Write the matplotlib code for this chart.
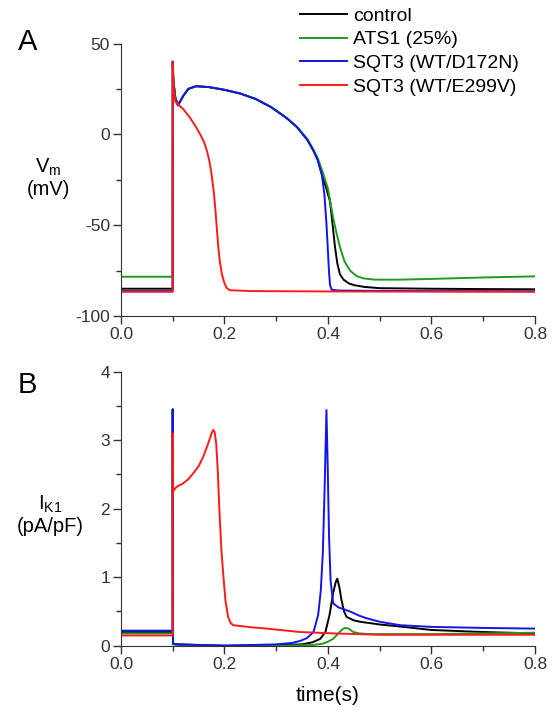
import matplotlib
matplotlib.use('Agg')
import matplotlib.pyplot as plt
from matplotlib.ticker import MultipleLocator

plt.rcParams['font.family'] = ['Liberation Sans', 'DejaVu Sans']
plt.rcParams['mathtext.fontset'] = 'custom'
plt.rcParams['mathtext.rm'] = 'Liberation Sans'
plt.rcParams['mathtext.it'] = 'Liberation Sans'
plt.rcParams['axes.unicode_minus'] = False

labels = ['control', 'ATS1 (25%)', 'SQT3 (WT/D172N)', 'SQT3 (WT/E299V)']
colors = ['black', '#1e9c1e', '#1414e6', '#ff1a1a']

# panel A: membrane potential (mV)
t_v_ctrl = [0, 0.0999, 0.1, 0.101, 0.105, 0.11, 0.12, 0.13, 0.145, 0.17, 0.2, 0.23, 0.26,
            0.29, 0.32, 0.34, 0.36, 0.372, 0.38, 0.388, 0.396, 0.404, 0.409, 0.4135, 0.418,
            0.423, 0.43, 0.44, 0.45, 0.47, 0.5, 0.6, 0.7, 0.8]
v_ctrl = [-85, -85, 40, 30, 20, 16, 21, 25, 26.5, 26, 24.5, 22.5, 19.5,
          15, 9, 4, -3, -9, -14, -22, -29, -37, -50, -62, -71,
          -77, -80, -82, -83, -84, -84.7, -85, -85.2, -85.3]

t_v_ats = [0, 0.0999, 0.1, 0.101, 0.105, 0.11, 0.12, 0.13, 0.145, 0.17, 0.2, 0.23, 0.26,
           0.29, 0.32, 0.34, 0.36, 0.372, 0.38, 0.39, 0.40, 0.41, 0.417, 0.423, 0.432,
           0.4425, 0.455, 0.468, 0.49, 0.54, 0.6, 0.7, 0.8]
v_ats = [-78.4, -78.4, 40, 30, 20, 16, 21, 25, 26.5, 26, 24.5, 22.5, 19.5,
         15, 9, 4, -2.5, -8.5, -13, -21, -30, -46, -55, -62, -70,
         -75, -78, -79.3, -80, -80, -79.6, -78.8, -78.2]

t_v_d172n = [0, 0.0999, 0.1, 0.101, 0.105, 0.11, 0.12, 0.13, 0.145, 0.17, 0.2, 0.23, 0.26,
             0.29, 0.32, 0.34, 0.36, 0.372, 0.38, 0.388, 0.393, 0.397, 0.400, 0.402, 0.404,
             0.407, 0.42, 0.5, 0.6, 0.8]
v_d172n = [-86.3, -86.3, 40, 30, 20, 16, 21, 25, 26.5, 26, 24.5, 22.5, 19.5,
           15, 9, 4, -3, -9, -14, -22, -33, -49, -65, -76, -83,
           -85.5, -86, -86.2, -86.3, -86.4]

t_v_e299v = [0, 0.0999, 0.1, 0.102, 0.105, 0.11, 0.114, 0.12, 0.133, 0.145, 0.153, 0.16,
             0.166, 0.171, 0.175, 0.179, 0.182, 0.185, 0.188, 0.191, 0.195, 0.2, 0.204,
             0.21, 0.25, 0.4, 0.6, 0.8]
v_e299v = [-86.7, -86.7, 40, 25, 18, 16.5, 15.5, 14, 9.3, 4, 0, -4,
           -9, -15, -22, -31, -40, -51, -62, -70, -77, -82, -84.5,
           -85.8, -86.3, -86.5, -86.6, -86.7]

# panel B: I_K1 (pA/pF)
t_i_ctrl = [0, 0.0999, 0.1, 0.1005, 0.11, 0.2, 0.3, 0.35, 0.37, 0.385, 0.395, 0.403, 0.41,
            0.415, 0.418, 0.422, 0.426, 0.431, 0.436, 0.45, 0.462, 0.5, 0.54, 0.6, 0.7, 0.8]
i_ctrl = [0.20, 0.20, 3.45, 0.03, 0.02, 0.0, 0.01, 0.02, 0.05, 0.1, 0.2, 0.45, 0.77,
          0.93, 0.98, 0.85, 0.67, 0.5, 0.42, 0.37, 0.35, 0.31, 0.28, 0.23, 0.2, 0.18]

t_i_ats = [0, 0.0999, 0.1, 0.1005, 0.11, 0.2, 0.3, 0.37, 0.39, 0.40, 0.41, 0.42, 0.428,
           0.433, 0.44, 0.449, 0.46, 0.48, 0.6, 0.8]
i_ats = [0.18, 0.18, 3.45, 0.02, 0.01, 0.0, 0.0, 0.01, 0.03, 0.06, 0.1, 0.18, 0.24,
         0.26, 0.25, 0.2, 0.18, 0.17, 0.17, 0.19]

t_i_d172n = [0, 0.0999, 0.1, 0.1005, 0.11, 0.2, 0.3, 0.33, 0.346, 0.359, 0.372, 0.381, 0.386,
             0.39, 0.3935, 0.397, 0.3995, 0.402, 0.405, 0.41, 0.42, 0.4425, 0.46, 0.475,
             0.5, 0.539, 0.6, 0.7, 0.8]
i_d172n = [0.22, 0.22, 3.45, 0.03, 0.02, 0.0, 0.02, 0.04, 0.07, 0.11, 0.2, 0.45, 0.8,
           1.35, 2.3, 3.44, 2.6, 1.6, 0.95, 0.62, 0.56, 0.5, 0.44, 0.4,
           0.35, 0.3, 0.275, 0.26, 0.25]

t_i_e299v = [0, 0.0999, 0.1, 0.1008, 0.105, 0.11, 0.12, 0.13, 0.14, 0.15, 0.159, 0.166,
             0.172, 0.175, 0.178, 0.181, 0.184, 0.187, 0.19, 0.194, 0.198, 0.202, 0.207,
             0.212, 0.217, 0.25, 0.282, 0.346, 0.41, 0.5, 0.8]
i_e299v = [0.15, 0.15, 3.1, 2.25, 2.3, 2.33, 2.37, 2.43, 2.52, 2.62, 2.76, 2.9,
           3.03, 3.1, 3.15, 3.12, 2.95, 2.55, 2.0, 1.4, 1.0, 0.65, 0.42,
           0.33, 0.3, 0.27, 0.25, 0.2, 0.18, 0.16, 0.16]

v_series = [(t_v_ctrl, v_ctrl), (t_v_ats, v_ats), (t_v_d172n, v_d172n), (t_v_e299v, v_e299v)]
i_series = [(t_i_ctrl, i_ctrl), (t_i_ats, i_ats), (t_i_d172n, i_d172n), (t_i_e299v, i_e299v)]

fig = plt.figure(figsize=(5.54, 7.11), dpi=100)
axA = fig.add_axes([0.2184, 0.5556, 0.7473, 0.3832])
axB = fig.add_axes([0.2184, 0.0918, 0.7473, 0.3854])

for (t, y), c, lab in zip(v_series, colors, labels):
    axA.plot(t, y, color=c, lw=1.4, label=lab)
for (t, y), c in zip(i_series, colors):
    axB.plot(t, y, color=c, lw=1.4)

def style(ax, ylim, major, minor):
    ax.set_xlim(0, 0.8)
    ax.set_ylim(*ylim)
    ax.xaxis.set_major_locator(MultipleLocator(0.2))
    ax.xaxis.set_minor_locator(MultipleLocator(0.1))
    ax.yaxis.set_major_locator(MultipleLocator(major))
    ax.yaxis.set_minor_locator(MultipleLocator(minor))
    ax.xaxis.set_major_formatter(plt.FormatStrFormatter('%.1f'))
    for s in ['top', 'right']:
        ax.spines[s].set_visible(False)
    for s in ['left', 'bottom']:
        ax.spines[s].set_color('#333333')
    ax.tick_params(which='major', direction='out', length=6, width=1, colors='#333333',
                   labelsize=12.5, pad=2)
    ax.tick_params(which='minor', direction='out', length=3.5, width=1, colors='#333333')

style(axA, (-100, 50), 50, 25)
style(axB, (0, 4), 1, 0.5)

fig.text(18/554, 1 - 42/711, 'A', fontsize=21, va='center', ha='left')
fig.text(18/554, 1 - 385/711, 'B', fontsize=21, va='center', ha='left')
fig.text(48/554, 1 - 178/711, 'V$_\\mathrm{m}$\n(mV)', fontsize=14.5, ha='center', va='center',
         linespacing=1.1)
fig.text(50/554, 1 - 515/711, 'I$_\\mathrm{K1}$\n(pA/pF)', fontsize=14.5, ha='center', va='center',
         linespacing=1.1)
axB.set_xlabel('time(s)', fontsize=15, labelpad=10)

fig.legend(loc='upper left', bbox_to_anchor=(300/554, 1 - 7/711), frameon=False,
           fontsize=14, handlelength=2.4, handletextpad=0.35, labelspacing=0.32,
           borderpad=0, borderaxespad=0)

fig.savefig('out.png', dpi=100)
